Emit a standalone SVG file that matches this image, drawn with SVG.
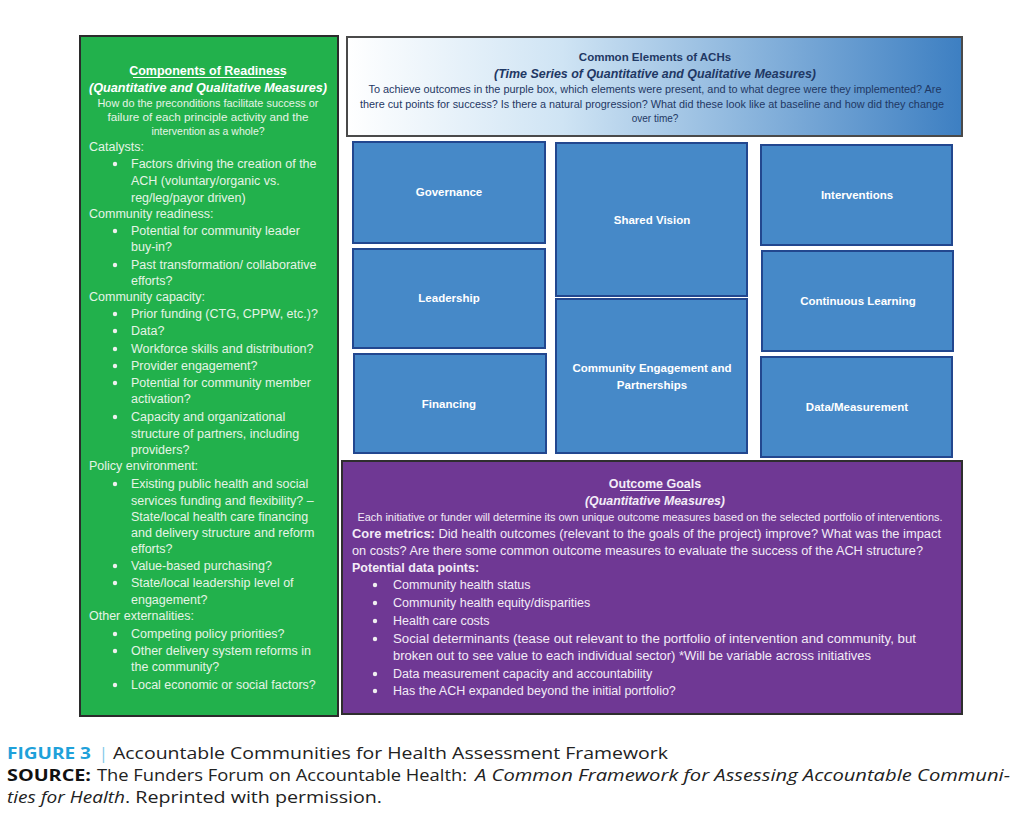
<svg xmlns="http://www.w3.org/2000/svg" width="1024" height="818" viewBox="0 0 1024 818">
<defs>
<linearGradient id="hdrGrad" x1="0" y1="0" x2="1" y2="0">
<stop offset="0" stop-color="#ffffff"/>
<stop offset="0.35" stop-color="#cfe4f4"/>
<stop offset="1" stop-color="#3d7fc2"/>
</linearGradient>
<style>
text{font-family:"Liberation Sans",Arial,sans-serif;}
.g{fill:#e6f4e6;font-size:12.5px;}
.gt{fill:#ffffff;font-size:12.5px;font-weight:bold;}
.gs{fill:#e6f4e6;font-size:10.5px;}
.blue{fill:#4689c8;stroke:#22478f;stroke-width:2;}
.bl{fill:#ffffff;font-size:11.5px;font-weight:bold;text-anchor:middle;}
.hd{fill:#1f3864;}
.p{fill:#f3ecf7;font-size:12.5px;}
.ps{fill:#f3ecf7;font-size:10px;}
.dot{fill:#f0f0f0;}
.cap{font-family:"Open Sans","Liberation Sans",sans-serif;font-size:16px;fill:#222222;}
</style>
</defs>
<rect width="1024" height="818" fill="#ffffff"/>

<g id="connectors"></g>

<g id="node-readiness">
<rect x="80" y="36" width="258" height="680" fill="#22b14c" stroke="#2b2b2b" stroke-width="2"/>
<text class="gt" x="208" y="75" text-anchor="middle">Components of Readiness</text>
<line x1="133" y1="77.5" x2="284" y2="77.5" stroke="#ffffff" stroke-width="1"/>
<text class="gt" x="208" y="92" text-anchor="middle" font-style="italic" textLength="238" lengthAdjust="spacingAndGlyphs">(Quantitative and Qualitative Measures)</text>
<text class="gs" x="208" y="107" text-anchor="middle" textLength="221" lengthAdjust="spacingAndGlyphs">How do the preconditions facilitate success or</text>
<text class="gs" x="208" y="121" text-anchor="middle" textLength="201" lengthAdjust="spacingAndGlyphs">failure of each principle activity and the</text>
<text class="gs" x="208" y="135" text-anchor="middle">intervention as a whole?</text>
<g class="g">
<text x="89" y="151">Catalysts:</text>
<text x="131" y="168">Factors driving the creation of the</text>
<text x="131" y="185">ACH (voluntary/organic vs.</text>
<text x="131" y="202">reg/leg/payor driven)</text>
<text x="89" y="218">Community readiness:</text>
<text x="131" y="235">Potential for community leader</text>
<text x="131" y="251">buy-in?</text>
<text x="131" y="269">Past transformation/ collaborative</text>
<text x="131" y="285">efforts?</text>
<text x="89" y="301">Community capacity:</text>
<text x="131" y="318">Prior funding (CTG, CPPW, etc.)?</text>
<text x="131" y="335">Data?</text>
<text x="131" y="353">Workforce skills and distribution?</text>
<text x="131" y="370">Provider engagement?</text>
<text x="131" y="387">Potential for community member</text>
<text x="131" y="403">activation?</text>
<text x="131" y="421">Capacity and organizational</text>
<text x="131" y="438">structure of partners, including</text>
<text x="131" y="454">providers?</text>
<text x="89" y="470">Policy environment:</text>
<text x="131" y="488">Existing public health and social</text>
<text x="131" y="505">services funding and flexibility? –</text>
<text x="131" y="521">State/local health care financing</text>
<text x="131" y="537">and delivery structure and reform</text>
<text x="131" y="553">efforts?</text>
<text x="131" y="570">Value-based purchasing?</text>
<text x="131" y="587">State/local leadership level of</text>
<text x="131" y="604">engagement?</text>
<text x="89" y="620">Other externalities:</text>
<text x="131" y="638">Competing policy priorities?</text>
<text x="131" y="655">Other delivery system reforms in</text>
<text x="131" y="671">the community?</text>
<text x="131" y="689">Local economic or social factors?</text>
</g>
<g class="dot">
<circle cx="115" cy="164" r="2.2"/>
<circle cx="115" cy="231" r="2.2"/>
<circle cx="115" cy="265" r="2.2"/>
<circle cx="115" cy="314" r="2.2"/>
<circle cx="115" cy="331" r="2.2"/>
<circle cx="115" cy="349" r="2.2"/>
<circle cx="115" cy="366" r="2.2"/>
<circle cx="115" cy="383" r="2.2"/>
<circle cx="115" cy="417" r="2.2"/>
<circle cx="115" cy="484" r="2.2"/>
<circle cx="115" cy="566" r="2.2"/>
<circle cx="115" cy="583" r="2.2"/>
<circle cx="115" cy="634" r="2.2"/>
<circle cx="115" cy="651" r="2.2"/>
<circle cx="115" cy="685" r="2.2"/>
</g>
</g>

<g id="node-common-elements">
<rect x="347" y="37" width="615" height="99" fill="url(#hdrGrad)" stroke="#4a4a4a" stroke-width="2"/>
<text class="hd" x="655" y="61" text-anchor="middle" font-size="11.5" font-weight="bold">Common Elements of ACHs</text>
<text class="hd" x="655" y="78" text-anchor="middle" font-size="12.5" font-weight="bold" font-style="italic" textLength="322" lengthAdjust="spacingAndGlyphs">(Time Series of Quantitative and Qualitative Measures)</text>
<text class="hd" x="655" y="93" text-anchor="middle" font-size="10" textLength="573" lengthAdjust="spacingAndGlyphs">To achieve outcomes in the purple box, which elements were present, and to what degree were they implemented? Are</text>
<text class="hd" x="652" y="108" text-anchor="middle" font-size="10" textLength="584" lengthAdjust="spacingAndGlyphs">there cut points for success? Is there a natural progression? What did these look like at baseline and how did they change</text>
<text class="hd" x="655" y="122" text-anchor="middle" font-size="10">over time?</text>
</g>

<g id="node-governance">
<rect class="blue" x="353" y="142" width="192" height="101"/>
<text class="bl" x="449" y="196">Governance</text>
</g>
<g id="node-leadership">
<rect class="blue" x="353" y="249" width="192" height="99"/>
<text class="bl" x="449" y="302">Leadership</text>
</g>
<g id="node-financing">
<rect class="blue" x="354" y="354" width="192" height="99"/>
<text class="bl" x="449" y="408">Financing</text>
</g>
<g id="node-shared-vision">
<rect class="blue" x="556" y="143" width="191" height="153"/>
<text class="bl" x="652" y="224">Shared Vision</text>
</g>
<g id="node-community-engagement">
<rect class="blue" x="556" y="299" width="191" height="154"/>
<text class="bl" x="652" y="372">Community Engagement and</text>
<text class="bl" x="652" y="389">Partnerships</text>
</g>
<g id="node-interventions">
<rect class="blue" x="761" y="145" width="191" height="100"/>
<text class="bl" x="857" y="199">Interventions</text>
</g>
<g id="node-continuous-learning">
<rect class="blue" x="762" y="251" width="191" height="100"/>
<text class="bl" x="858" y="305">Continuous Learning</text>
</g>
<g id="node-data-measurement">
<rect class="blue" x="761" y="357" width="191" height="100"/>
<text class="bl" x="857" y="411">Data/Measurement</text>
</g>

<g id="node-outcome-goals">
<rect x="342" y="461" width="620" height="253" fill="#6f3894" stroke="#2e2e2e" stroke-width="2"/>
<text class="p" x="655" y="488" text-anchor="middle" font-weight="bold" font-size="12">Outcome Goals</text>
<line x1="620" y1="490.5" x2="690" y2="490.5" stroke="#f3ecf7" stroke-width="1"/>
<text class="p" x="655" y="505" text-anchor="middle" font-weight="bold" font-style="italic" textLength="140" lengthAdjust="spacingAndGlyphs">(Quantitative Measures)</text>
<text class="ps" x="650" y="521" text-anchor="middle" textLength="585" lengthAdjust="spacingAndGlyphs">Each initiative or funder will determine its own unique outcome measures based on the selected portfolio of interventions.</text>
<text class="p" x="352" y="538" textLength="589" lengthAdjust="spacingAndGlyphs"><tspan font-weight="bold">Core metrics:</tspan> Did health outcomes (relevant to the goals of the project) improve? What was the impact</text>
<text class="p" x="352" y="555" textLength="571" lengthAdjust="spacingAndGlyphs">on costs? Are there some common outcome measures to evaluate the success of the ACH structure?</text>
<text class="p" x="352" y="572" font-weight="bold" font-size="12">Potential data points:</text>
<g class="p" font-size="11.5">
<text x="393" y="589">Community health status</text>
<text x="393" y="607">Community health equity/disparities</text>
<text x="393" y="625">Health care costs</text>
<text x="393" y="643" textLength="523" lengthAdjust="spacingAndGlyphs">Social determinants (tease out relevant to the portfolio of intervention and community, but</text>
<text x="393" y="660" textLength="478" lengthAdjust="spacingAndGlyphs">broken out to see value to each individual sector) *Will be variable across initiatives</text>
<text x="393" y="678">Data measurement capacity and accountability</text>
<text x="393" y="695">Has the ACH expanded beyond the initial portfolio?</text>
</g>
<g class="dot">
<circle cx="375" cy="585" r="2.2"/>
<circle cx="375" cy="603" r="2.2"/>
<circle cx="375" cy="621" r="2.2"/>
<circle cx="375" cy="639" r="2.2"/>
<circle cx="375" cy="674" r="2.2"/>
<circle cx="375" cy="691" r="2.2"/>
</g>
</g>

<g id="caption">
<text class="cap" x="7" y="759" font-weight="bold" style="fill:#1fa1da" textLength="84" lengthAdjust="spacingAndGlyphs">FIGURE 3</text>
<text class="cap" x="99" y="759" style="fill:#7cc6e8">|</text>
<text class="cap" x="113" y="759" textLength="555" lengthAdjust="spacingAndGlyphs">Accountable Communities for Health Assessment Framework</text>
<text class="cap" x="7" y="781" font-weight="bold" style="fill:#111111" textLength="84" lengthAdjust="spacingAndGlyphs">SOURCE:</text>
<text class="cap" x="97" y="781" textLength="370" lengthAdjust="spacingAndGlyphs">The Funders Forum on Accountable Health:</text>
<text class="cap" x="475" y="781" font-style="italic" textLength="535" lengthAdjust="spacingAndGlyphs">A Common Framework for Assessing Accountable Communi-</text>
<text class="cap" x="7" y="803" font-style="italic" textLength="118" lengthAdjust="spacingAndGlyphs">ties for Health</text>
<text class="cap" x="125" y="803" textLength="257" lengthAdjust="spacingAndGlyphs">. Reprinted with permission.</text>
</g>
</svg>
